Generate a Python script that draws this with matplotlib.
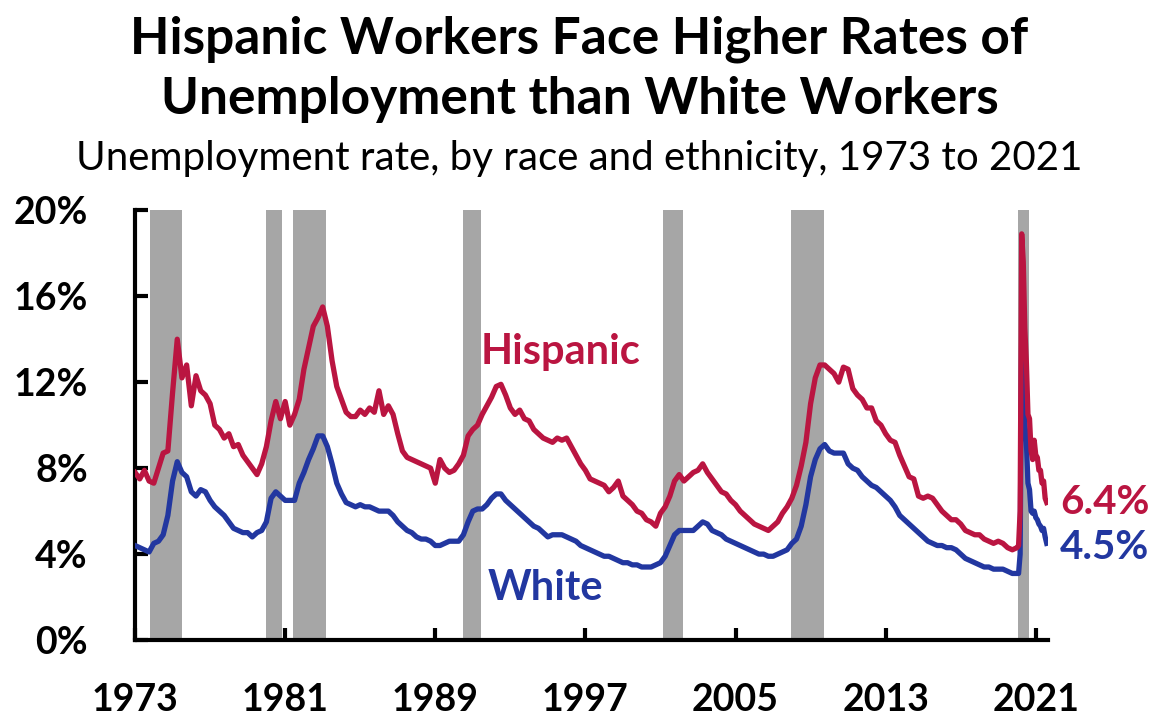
import numpy as np
import matplotlib
matplotlib.use('Agg')
import matplotlib.pyplot as plt

# quarterly rates 1973Q1-2019Q4, then monthly Jan 2020 - Aug 2021
white_q = [
    4.4, 4.3, 4.2, 4.1,  4.5, 4.6, 4.9, 5.8,  7.4, 8.3, 7.8, 7.6,
    6.9, 6.7, 7.0, 6.9,  6.5, 6.2, 6.0, 5.8,  5.5, 5.2, 5.1, 5.0,
    5.0, 4.8, 5.0, 5.1,  5.5, 6.6, 6.9, 6.7,  6.5, 6.5, 6.5, 7.3,
    7.8, 8.4, 8.9, 9.5,  9.5, 9.0, 8.2, 7.3,  6.8, 6.4, 6.3, 6.2,
    6.3, 6.2, 6.2, 6.1,  6.0, 6.0, 6.0, 5.8,  5.5, 5.3, 5.1, 5.0,
    4.8, 4.7, 4.7, 4.6,  4.4, 4.4, 4.5, 4.6,  4.6, 4.6, 4.9, 5.5,
    6.0, 6.1, 6.1, 6.3,  6.6, 6.8, 6.8, 6.5,  6.3, 6.1, 5.9, 5.7,
    5.5, 5.3, 5.2, 5.0,  4.8, 4.9, 4.9, 4.9,  4.8, 4.7, 4.6, 4.4,
    4.3, 4.2, 4.1, 4.0,  3.9, 3.9, 3.8, 3.7,  3.6, 3.6, 3.5, 3.5,
    3.4, 3.4, 3.4, 3.5,  3.6, 3.9, 4.4, 4.9,  5.1, 5.1, 5.1, 5.1,
    5.3, 5.5, 5.4, 5.1,  5.0, 4.9, 4.7, 4.6,  4.5, 4.4, 4.3, 4.2,
    4.1, 4.0, 4.0, 3.9,  3.9, 4.0, 4.1, 4.2,  4.5, 4.7, 5.3, 6.3,
    7.6, 8.4, 8.9, 9.1,  8.8, 8.7, 8.7, 8.7,  8.2, 8.0, 7.9, 7.6,
    7.4, 7.2, 7.1, 6.9,  6.7, 6.5, 6.2, 5.8,  5.6, 5.4, 5.2, 5.0,
    4.8, 4.6, 4.5, 4.4,  4.4, 4.3, 4.3, 4.2,  4.0, 3.8, 3.7, 3.6,
    3.5, 3.4, 3.4, 3.3,  3.3, 3.3, 3.2, 3.1,
]
hispanic_q = [
    7.8, 7.5, 7.9, 7.4,  7.3, 8.0, 8.7, 8.8,  11.5, 14.0, 12.2, 12.8,
    10.9, 12.3, 11.6, 11.4,  11.0, 10.0, 9.8, 9.4,  9.6, 9.0, 9.1, 8.6,
    8.3, 8.0, 7.7, 8.2,  9.0, 10.2, 11.1, 10.3,  11.1, 10.0, 10.5, 11.2,
    12.6, 13.6, 14.6, 15.0,  15.5, 14.6, 13.0, 11.8,  11.2, 10.6, 10.4, 10.4,
    10.7, 10.5, 10.8, 10.6,  11.6, 10.5, 10.9, 10.5,  9.6, 8.8, 8.5, 8.4,
    8.3, 8.2, 8.1, 8.0,  7.3, 8.4, 8.0, 7.8,  7.9, 8.2, 8.6, 9.5,
    9.8, 10.0, 10.5, 10.9,  11.3, 11.8, 11.9, 11.4,  10.8, 10.5, 10.7, 10.3,
    10.2, 9.8, 9.6, 9.4,  9.3, 9.2, 9.4, 9.3,  9.4, 9.0, 8.6, 8.2,
    7.9, 7.5, 7.4, 7.3,  7.2, 6.9, 7.1, 7.4,  6.7, 6.5, 6.3, 6.0,
    5.9, 5.6, 5.5, 5.3,  5.9, 6.2, 6.7, 7.4,  7.7, 7.4, 7.6, 7.8,
    7.9, 8.2, 7.8, 7.5,  7.2, 6.9, 6.8, 6.5,  6.3, 6.0, 5.8, 5.6,
    5.4, 5.3, 5.2, 5.1,  5.3, 5.5, 5.9, 6.2,  6.6, 7.2, 8.1, 9.2,
    11.0, 12.2, 12.8, 12.8,  12.6, 12.4, 12.0, 12.7,  12.6, 11.7, 11.4, 11.2,
    10.8, 10.8, 10.2, 10.0,  9.6, 9.3, 9.2, 8.6,  8.1, 7.6, 7.5, 6.7,
    6.6, 6.7, 6.6, 6.3,  6.0, 5.8, 5.6, 5.6,  5.4, 5.1, 5.0, 4.9,
    4.9, 4.7, 4.6, 4.5,  4.6, 4.5, 4.3, 4.2,
]
white_m = [3.1, 3.1, 4.0, 14.2, 12.4, 10.1, 9.2, 7.3, 7.0, 6.0, 5.9, 6.0,
           5.7, 5.6, 5.4, 5.3, 5.1, 5.2, 4.8, 4.5]
hispanic_m = [4.3, 4.4, 6.0, 18.9, 17.6, 14.5, 12.9, 10.5, 10.3, 8.8, 8.4, 9.3,
              8.6, 8.5, 7.9, 7.9, 7.3, 7.4, 6.6, 6.4]

# recession bands (fractional years)
recessions = [(1973.8, 1975.5), (1980.0, 1980.83), (1981.42, 1983.18),
              (1990.47, 1991.43), (2001.13, 2002.2), (2007.95, 2009.71),
              (2020.04, 2020.63)]

year_ticks = [1973, 1981, 1989, 1997, 2005, 2013, 2021]
pct_ticks = [0, 4, 8, 12, 16, 20]

red = '#BA1541'
blue = '#2237A0'
font = 'Lato'

dates_q = 1973 + np.arange(len(white_q)) / 4
dates_m = 2020 + np.arange(len(white_m)) / 12
dates = np.concatenate([dates_q, dates_m])
white = np.concatenate([white_q, white_m])
hispanic = np.concatenate([hispanic_q, hispanic_m])

plt.rcParams['font.family'] = [font, 'DejaVu Sans']

fig = plt.figure(figsize=(11.59, 7.2), dpi=100)
ax = fig.add_axes([0.1165, 0.111, 0.7877, 0.597])

for start, end in recessions:
    ax.axvspan(start, end, color='#A6A6A6', lw=0, zorder=1)

ax.plot(dates, white, color=blue, lw=3.8, zorder=3, solid_joinstyle='round')
ax.plot(dates, hispanic, color=red, lw=3.8, zorder=4, solid_joinstyle='round')

ax.set_xlim(1973, 2021.65)
ax.set_ylim(0, 20)
ax.set_xticks(year_ticks)
ax.set_xticklabels([str(y) for y in year_ticks])
ax.set_yticks(pct_ticks)
ax.set_yticklabels([f'{p}%' for p in pct_ticks])

for side in ['top', 'right']:
    ax.spines[side].set_visible(False)
for side in ['left', 'bottom']:
    ax.spines[side].set_linewidth(3)
    ax.spines[side].set_color('black')
ax.tick_params(axis='both', direction='in', length=9, width=3,
               labelsize=27)
ax.tick_params(axis='y', pad=34)
ax.tick_params(axis='x', pad=31)
for lab in ax.get_xticklabels() + ax.get_yticklabels():
    lab.set_fontweight('bold')

ax.text(1991.4, 13.4, 'Hispanic', color=red, fontsize=30, fontweight='bold',
        ha='left', va='center')
ax.text(1991.8, 2.4, 'White', color=blue, fontsize=30, fontweight='bold',
        ha='left', va='center')
ax.text(2022.3, hispanic[-1], f'{hispanic[-1]:.1f}%', color=red, fontsize=29,
        fontweight='bold', ha='left', va='center', clip_on=False)
ax.text(2022.3, white[-1] - 0.2, f'{white[-1]:.1f}%', color=blue, fontsize=29,
        fontweight='bold', ha='left', va='center', clip_on=False)

fig.text(0.5, 0.945, 'Hispanic Workers Face Higher Rates of', ha='center',
         va='center', fontsize=37, fontweight='bold')
fig.text(0.5, 0.862, 'Unemployment than White Workers', ha='center',
         va='center', fontsize=37, fontweight='bold')
fig.text(0.5, 0.78, 'Unemployment rate, by race and ethnicity, 1973 to 2021',
         ha='center', va='center', fontsize=29)

fig.savefig('out.png', dpi=100)
